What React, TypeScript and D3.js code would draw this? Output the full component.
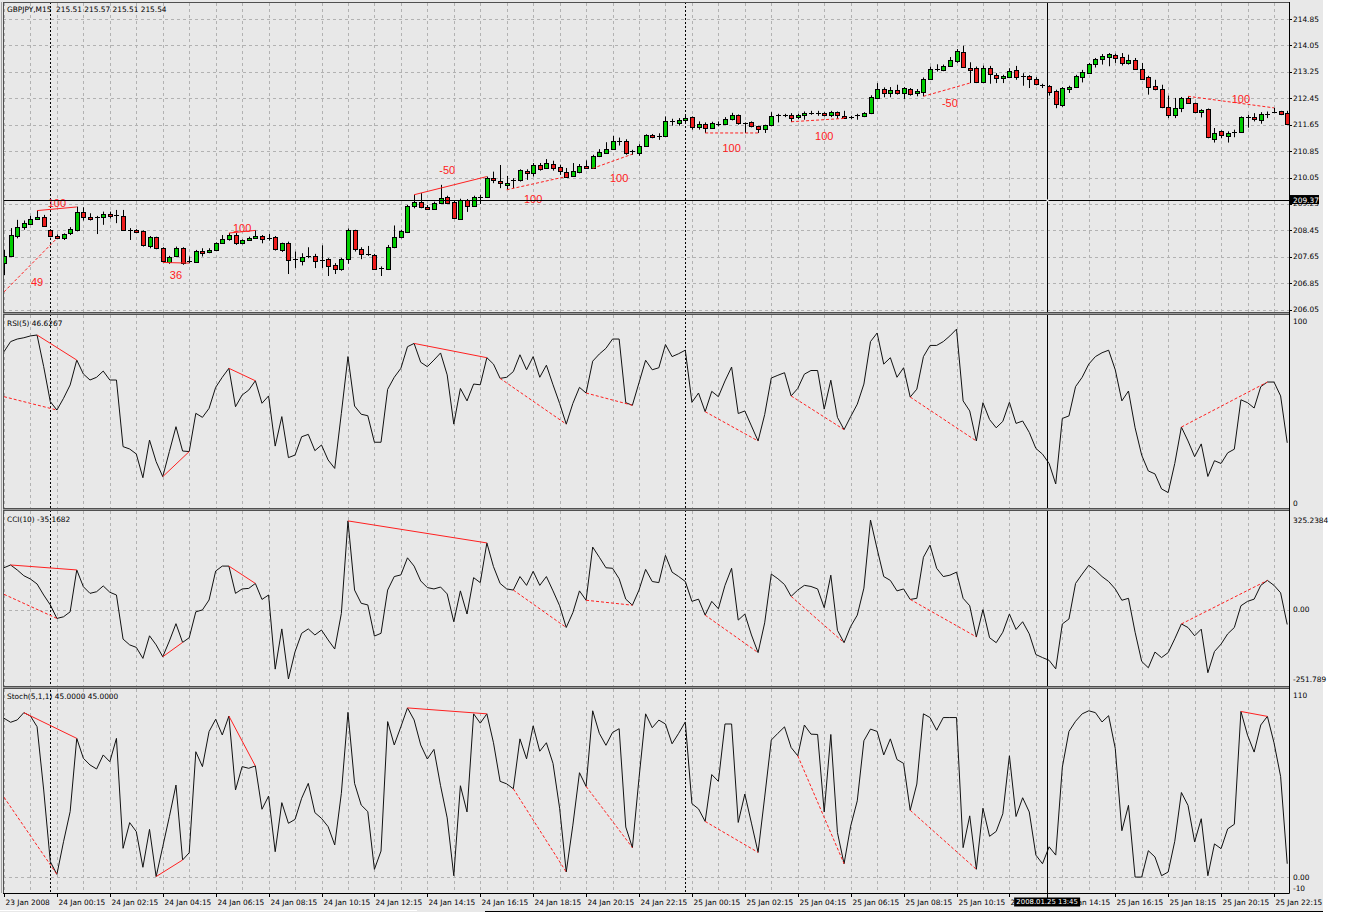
import React from "react";
import * as d3 from "d3";

// ---------------- DATA ----------------
const symbolHeader = "GBPJPY,M15  215.51 215.57 215.51 215.54";
const rsiHeader = "RSI(5) 46.6267";
const cciHeader = "CCI(10) -35.1682";
const stochHeader = "Stoch(5,1,1) 45.0000 45.0000";

const timeLabels = [
  "23 Jan 2008", "24 Jan 00:15", "24 Jan 02:15", "24 Jan 04:15", "24 Jan 06:15", "24 Jan 08:15",
  "24 Jan 10:15", "24 Jan 12:15", "24 Jan 14:15", "24 Jan 16:15", "24 Jan 18:15", "24 Jan 20:15",
  "24 Jan 22:15", "25 Jan 00:15", "25 Jan 02:15", "25 Jan 04:15", "25 Jan 06:15", "25 Jan 08:15",
  "25 Jan 10:15", "25 Jan 12:15", "25 Jan 14:15", "25 Jan 16:15", "25 Jan 18:15", "25 Jan 20:15",
  "25 Jan 22:15",
];
const barsPerLabel = 8;
const gridEveryBars = 4;
const periodSeparatorBars = [7, 103];

const priceTicks = [214.85, 214.05, 213.25, 212.45, 211.65, 210.85, 210.05, 209.25, 208.45, 207.65, 206.85, 206.05];
const rsiTicks = [100, 0];
const cciTicks = [325.2384, 0, -251.789];
const cciTickLabels = ["325.2384", "0.00", "-251.789"];
const stochTicks = [110, 0, -10];
const stochTickLabels = ["110", "0.00", "-10"];

const crosshairBar = 157.7;
const crosshairPrice = 209.37;
const crosshairTimeLabel = "2008.01.25 13:45";

const open = [
  207.46, 207.68, 208.28, 208.55, 208.65, 208.80, 208.86, 208.47, 208.28, 208.20,
  208.37, 208.47, 209.00, 208.87, 208.86, 208.86, 208.95, 208.91, 208.89, 208.47,
  208.47, 208.42, 207.98, 208.24, 207.91, 207.51, 207.66, 207.91, 207.52, 207.51,
  207.84, 207.79, 207.86, 208.08, 208.18, 208.30, 208.06, 208.16, 208.22, 208.28,
  208.23, 208.24, 207.86, 208.06, 207.57, 207.54, 207.68, 207.68, 207.55, 207.58,
  207.40, 207.27, 207.58, 208.45, 207.88, 207.74, 207.71, 207.31, 207.27, 207.94,
  208.24, 208.40, 209.19, 209.32, 209.17, 209.12, 209.27, 209.46, 209.31, 208.80,
  209.37, 209.19, 209.46, 209.46, 210.03, 209.95, 209.85, 209.98, 209.98, 210.26,
  210.20, 210.44, 210.34, 210.46, 210.36, 210.23, 210.08, 210.24, 210.41, 210.34,
  210.69, 210.81, 210.91, 211.15, 211.17, 210.84, 210.81, 211.02, 211.35, 211.30,
  211.32, 211.76, 211.70, 211.78, 211.88, 211.58, 211.67, 211.55, 211.68, 211.67,
  211.80, 211.93, 211.69, 211.72, 211.60, 211.50, 211.62, 211.94, 211.93, 211.95,
  211.87, 211.92, 212.00, 212.00, 212.00, 211.95, 212.03, 211.92, 211.87, 211.93,
  211.90, 212.00, 212.48, 212.74, 212.61, 212.71, 212.60, 212.73, 212.59, 212.64,
  213.04, 213.33, 213.30, 213.45, 213.59, 213.85, 213.37, 213.36, 212.94, 213.36,
  213.16, 213.06, 213.11, 213.31, 213.11, 213.13, 213.03, 212.84, 212.83, 212.66,
  212.26, 212.73, 212.79, 213.11, 213.23, 213.49, 213.65, 213.70, 213.75, 213.69,
  213.52, 213.62, 213.35, 213.08, 212.83, 212.73, 212.18, 211.95, 212.16, 212.46,
  212.30, 212.05, 212.12, 211.24, 211.45, 211.31, 211.44, 211.43, 211.88, 211.87,
  211.80, 211.98, 212.02, 212.05, 212.00,
];
const high = [
  207.86, 208.52, 208.77, 208.75, 208.89, 209.05, 208.92, 208.49, 208.33, 208.36,
  208.55, 209.17, 209.15, 208.97, 208.89, 209.02, 209.02, 209.07, 209.07, 208.52,
  208.49, 208.45, 208.28, 208.26, 207.94, 207.68, 207.96, 207.94, 207.66, 207.86,
  207.91, 207.91, 208.09, 208.31, 208.37, 208.37, 208.18, 208.26, 208.45, 208.31,
  208.34, 208.28, 208.08, 208.11, 207.81, 207.76, 207.94, 207.74, 208.00, 207.61,
  207.46, 207.62, 208.51, 208.47, 207.94, 207.98, 207.74, 207.36, 208.01, 208.60,
  208.47, 209.22, 209.53, 209.58, 209.22, 209.32, 209.83, 209.50, 209.35, 209.41,
  209.40, 209.50, 209.53, 210.08, 210.23, 210.43, 210.10, 210.03, 210.30, 210.30,
  210.49, 210.49, 210.61, 210.56, 210.44, 210.34, 210.49, 210.46, 210.57, 210.74,
  210.91, 211.12, 211.31, 211.26, 211.21, 210.89, 211.06, 211.36, 211.37, 211.39,
  211.90, 211.83, 211.85, 211.92, 211.90, 211.75, 211.72, 211.74, 211.75, 211.88,
  212.01, 211.96, 211.72, 211.75, 211.62, 211.65, 212.03, 211.98, 211.98, 212.00,
  211.98, 212.05, 212.07, 212.07, 212.03, 212.07, 212.05, 212.07, 211.92, 211.98,
  212.03, 212.54, 212.91, 212.78, 212.79, 212.86, 212.79, 212.76, 212.73, 213.08,
  213.41, 213.48, 213.47, 213.70, 213.94, 214.04, 213.54, 213.41, 213.44, 213.43,
  213.21, 213.16, 213.36, 213.43, 213.21, 213.15, 213.09, 212.89, 212.85, 212.71,
  212.79, 212.83, 213.16, 213.31, 213.52, 213.67, 213.79, 213.82, 213.80, 213.82,
  213.77, 213.67, 213.52, 213.13, 213.01, 212.86, 212.53, 212.46, 212.49, 212.51,
  212.32, 212.12, 212.14, 211.55, 211.48, 211.45, 211.50, 211.90, 211.95, 212.00,
  212.03, 212.05, 212.16, 212.07, 212.07,
];
const low = [
  207.10, 207.66, 208.21, 208.47, 208.62, 208.77, 208.57, 208.24, 208.20, 208.16,
  208.31, 208.42, 208.75, 208.75, 208.34, 208.62, 208.81, 208.67, 208.45, 208.16,
  208.37, 207.96, 207.91, 207.88, 207.48, 207.44, 207.64, 207.41, 207.46, 207.49,
  207.66, 207.76, 207.84, 208.06, 208.14, 208.01, 208.03, 208.14, 208.20, 208.06,
  208.14, 207.84, 207.80, 207.13, 207.31, 207.39, 207.61, 207.31, 207.31, 207.07,
  207.13, 207.23, 207.44, 207.81, 207.58, 207.68, 207.27, 207.07, 207.25, 207.91,
  208.21, 208.37, 209.12, 209.12, 209.07, 209.07, 209.25, 209.25, 208.80, 208.77,
  209.01, 209.17, 209.25, 209.43, 209.88, 209.73, 209.68, 209.73, 209.93, 209.98,
  210.08, 210.26, 210.31, 210.26, 210.13, 210.08, 210.08, 210.18, 210.34, 210.31,
  210.67, 210.79, 210.89, 211.02, 210.74, 210.74, 210.71, 211.01, 211.24, 211.19,
  211.29, 211.62, 211.62, 211.70, 211.50, 211.50, 211.40, 211.53, 211.60, 211.65,
  211.78, 211.65, 211.40, 211.57, 211.40, 211.40, 211.60, 211.72, 211.88, 211.73,
  211.82, 211.80, 211.95, 211.92, 211.90, 211.88, 211.83, 211.85, 211.82, 211.80,
  211.88, 211.97, 212.43, 212.48, 212.48, 212.56, 212.43, 212.53, 212.51, 212.51,
  213.01, 213.26, 213.27, 213.42, 213.52, 213.37, 212.91, 212.91, 212.91, 212.89,
  212.91, 212.91, 213.06, 213.01, 212.83, 212.76, 212.84, 212.76, 212.53, 212.15,
  212.19, 212.61, 212.76, 212.93, 213.21, 213.38, 213.47, 213.42, 213.52, 213.44,
  213.47, 213.31, 213.01, 212.56, 212.69, 212.15, 211.85, 211.85, 212.03, 212.29,
  212.00, 211.87, 211.24, 211.11, 211.24, 211.11, 211.27, 211.40, 211.56, 211.75,
  211.68, 211.85, 212.00, 211.94, 211.65,
];
const close = [
  207.68, 208.31, 208.54, 208.67, 208.80, 208.87, 208.59, 208.28, 208.21, 208.33,
  208.50, 209.00, 208.85, 208.81, 208.85, 208.95, 208.89, 208.90, 208.47, 208.46,
  208.40, 208.01, 208.24, 207.91, 207.51, 207.66, 207.91, 207.46, 207.50, 207.84,
  207.79, 207.86, 208.06, 208.19, 208.30, 208.06, 208.16, 208.21, 208.29, 208.18,
  208.24, 207.88, 208.06, 207.56, 207.56, 207.66, 207.67, 207.54, 207.54, 207.36,
  207.27, 207.58, 208.47, 207.86, 207.74, 207.73, 207.30, 207.30, 207.94, 208.24,
  208.42, 209.19, 209.32, 209.17, 209.12, 209.29, 209.43, 209.29, 208.82, 209.37,
  209.19, 209.46, 209.45, 210.03, 209.98, 209.88, 209.90, 209.97, 210.28, 210.20,
  210.44, 210.31, 210.49, 210.34, 210.23, 210.08, 210.24, 210.41, 210.34, 210.71,
  210.82, 210.92, 211.15, 211.12, 210.82, 210.83, 211.02, 211.34, 211.29, 211.32,
  211.76, 211.75, 211.78, 211.85, 211.57, 211.68, 211.55, 211.70, 211.69, 211.83,
  211.93, 211.68, 211.70, 211.60, 211.50, 211.63, 211.90, 211.95, 211.94, 211.85,
  211.93, 211.99, 212.01, 212.00, 211.94, 212.03, 211.94, 211.87, 211.90, 211.93,
  212.00, 212.48, 212.74, 212.61, 212.71, 212.63, 212.75, 212.59, 212.66, 213.04,
  213.33, 213.32, 213.42, 213.62, 213.89, 213.40, 213.32, 212.94, 213.36, 213.19,
  213.06, 213.11, 213.29, 213.09, 213.10, 213.03, 212.88, 212.83, 212.66, 212.28,
  212.76, 212.78, 213.13, 213.26, 213.49, 213.64, 213.74, 213.79, 213.67, 213.52,
  213.62, 213.35, 213.04, 212.78, 212.73, 212.18, 211.95, 212.17, 212.46, 212.31,
  212.02, 212.10, 211.27, 211.41, 211.32, 211.41, 211.45, 211.88, 211.89, 211.80,
  211.98, 212.02, 212.03, 211.97, 211.68,
];

const rsi = [
  82.7, 88.2, 89.6, 90.3, 91.3, 91.8, 74.5, 55.4, 50.8, 57.2,
  64.5, 78.1, 70.5, 67.2, 68.7, 72.1, 67.2, 67.2, 30.8, 29.5,
  26.8, 13.8, 34.4, 22.6, 14.4, 28.1, 41.7, 28.4, 28.1, 49.0,
  46.8, 51.7, 63.2, 68.7, 73.6, 52.6, 59.0, 61.7, 66.8, 54.5,
  58.5, 31.1, 47.2, 24.8, 26.2, 36.2, 37.5, 28.6, 31.7, 23.5,
  18.9, 49.0, 80.0, 53.0, 48.5, 47.7, 33.2, 33.2, 62.1, 68.7,
  73.6, 85.4, 87.2, 76.9, 74.5, 78.1, 82.0, 70.0, 43.1, 62.6,
  55.8, 65.0, 64.6, 79.4, 75.9, 68.1, 68.7, 71.8, 81.0, 72.8,
  80.0, 68.7, 75.3, 64.6, 54.4, 43.1, 54.4, 63.2, 60.1, 77.5,
  81.4, 84.5, 89.6, 89.6, 54.8, 53.4, 65.7, 78.0, 72.8, 73.9,
  86.6, 80.0, 81.6, 83.5, 55.0, 60.1, 49.9, 61.0, 58.1, 66.7,
  74.3, 48.9, 50.3, 42.1, 33.9, 48.3, 68.3, 69.8, 71.2, 58.5,
  62.6, 70.4, 72.4, 72.4, 51.3, 67.1, 46.8, 40.1, 47.2, 54.0,
  65.0, 88.2, 92.9, 75.9, 79.4, 68.7, 73.9, 57.9, 62.2, 80.0,
  86.1, 86.1, 88.2, 91.3, 95.0, 55.8, 50.3, 33.9, 54.8, 45.6,
  41.1, 44.6, 55.0, 43.5, 44.8, 38.6, 29.8, 26.7, 21.6, 10.4,
  46.2, 47.6, 63.6, 68.7, 75.9, 80.0, 82.1, 83.5, 72.8, 55.8,
  61.2, 41.1, 26.1, 17.5, 15.9, 7.7, 5.7, 21.6, 41.5, 33.9,
  25.3, 32.3, 14.5, 23.1, 21.6, 27.4, 29.4, 56.4, 54.8, 51.9,
  63.6, 66.1, 66.1, 58.5, 32.9,
];

const cci = [
  152, 162, 144, 123, 111, 93, 53, 17, -32, -26,
  -8, 144, 83, 59, 65, 86, 63, 53, -107, -128,
  -137, -177, -95, -128, -171, -114, -51, -119, -102, -8,
  -1, 35, 140, 158, 158, 59, 75, 77, 95, 37,
  53, -216, -70, -251.789, -153, -86, -70, -92, -74, -110,
  -143, -14, 322, 71, 23, 17, -96, -86, 71, 120,
  126, 188, 158, 104, 80, 75, 82, 57, -44, 68,
  -16, 116, 98, 242, 156, 95, 75, 71, 120, 88,
  139, 88, 120, 68, 14, -65, -11, 68, 34, 227,
  190, 152, 150, 112, 38, 16, 71, 146, 102, 98,
  197, 136, 120, 102, 30, 38, -20, 30, 3, 88,
  150, -38, -16, -92, -156, -48, 129, 112, 91, 48,
  71, 88, 84, 75, 7, 125, -75, -120, -61, -20,
  78, 325.2384, 220, 120, 106, 68, 75, 37, 41, 190,
  234, 150, 120, 125, 136, 41, 14, -99, 0, -102,
  -120, -82, -16, -72, -44, -88, -163, -174, -184, -215,
  -52, -34, 95, 129, 161, 143, 120, 102, 75, 34,
  41, -82, -188, -211, -154, -174, -156, -106, -52, -65,
  -95, -71, -229, -152, -125, -88, -65, 14, 30, 38,
  88, 106, 88, 61, -54,
];

const stoch = [
  93.9, 91.5, 92.9, 97.2, 95.2, 88.9, 51.5, 9.1, 1.6, 20.9,
  38.7, 82.0, 70.2, 66.3, 63.9, 72.2, 68.2, 82.0, 17.0, 32.2,
  26.9, 5.8, 28.2, 0.3, 18.0, 35.7, 54.4, 10.1, 14.4, 74.1,
  65.3, 86.0, 93.3, 84.0, 95.2, 51.5, 65.3, 64.3, 65.7, 40.1,
  47.9, 15.0, 44.0, 31.8, 34.1, 46.6, 55.4, 38.1, 34.7, 29.8,
  19.0, 49.5, 97.4, 55.4, 42.6, 38.7, 4.6, 15.4, 91.9, 78.1,
  88.9, 100, 92.9, 78.1, 69.8, 75.5, 54.0, 35.0, 0.8, 54.0,
  38.5, 96.5, 91.0, 96.5, 79.4, 56.6, 55.1, 52.2, 81.7, 69.9,
  89.4, 74.4, 79.4, 67.2, 40.7, 3.0, 30.7, 61.7, 53.6, 98.3,
  85.0, 77.9, 85.5, 87.7, 29.6, 17.4, 58.4, 96.5, 88.3, 92.8,
  90.5, 78.8, 85.0, 91.7, 43.4, 40.3, 32.9, 60.6, 56.6, 90.5,
  90.5, 32.3, 49.1, 31.9, 14.6, 47.3, 81.0, 85.0, 88.8, 76.6,
  71.7, 89.9, 84.5, 84.3, 38.5, 84.3, 26.3, 7.9, 30.1, 45.1,
  80.6, 87.5, 86.1, 72.2, 81.7, 69.5, 67.2, 39.5, 55.0, 96.5,
  94.3, 86.8, 94.3, 94.3, 94.3, 17.4, 36.2, 4.6, 40.7, 24.1,
  27.0, 37.4, 71.7, 35.8, 46.9, 38.5, 13.0, 7.9, 17.9, 13.0,
  65.0, 86.1, 92.1, 96.5, 98.3, 97.2, 91.7, 95.4, 76.1, 27.4,
  42.4, 0, 0, 15.6, 11.9, 0.8, 3.0, 21.2, 50.0, 42.4,
  20.8, 34.5, 0.8, 19.6, 16.8, 28.5, 31.2, 97.9, 83.9, 73.9,
  89.9, 95.0, 79.4, 59.5, 7.9,
];

// divergence marks (bar index and value at each end)
const priceDivergences = [
  { a: 0, av: 206.59, b: 8, bv: 208.21, dashed: true, label: "49", lb: 5, lv: 206.89 },
  { a: 5, av: 209.05, b: 11, bv: 209.16, dashed: false, label: "100", lb: 8, lv: 209.28 },
  { a: 24, av: 207.48, b: 28, bv: 207.46, dashed: false, label: "36", lb: 26, lv: 207.1 },
  { a: 34, av: 208.37, b: 38, bv: 208.45, dashed: false, label: "100", lb: 36, lv: 208.53 },
  { a: 62, av: 209.53, b: 73, bv: 210.08, dashed: false, label: "-50", lb: 67, lv: 210.28 },
  { a: 76, av: 209.68, b: 85, bv: 210.08, dashed: true, label: "100", lb: 80, lv: 209.4 },
  { a: 89, av: 210.33, b: 95, bv: 210.76, dashed: true, label: "100", lb: 93, lv: 210.05 },
  { a: 106, av: 211.4, b: 114, bv: 211.4, dashed: true, label: "100", lb: 110, lv: 210.96 },
  { a: 119, av: 211.74, b: 127, bv: 211.84, dashed: true, label: "100", lb: 124, lv: 211.32 },
  { a: 139, av: 212.51, b: 146, bv: 212.91, dashed: true, label: "-50", lb: 143, lv: 212.3 },
  { a: 179, av: 212.51, b: 192, bv: 212.16, dashed: true, label: "100", lb: 187, lv: 212.44 },
];
const rsiDivergences = [
  { a: 0, av: 58.1, b: 8, bv: 50.8, dashed: true },
  { a: 5, av: 91.8, b: 11, bv: 78.1, dashed: false },
  { a: 24, av: 14.4, b: 28, bv: 28.1, dashed: false },
  { a: 34, av: 73.6, b: 38, bv: 66.8, dashed: false },
  { a: 62, av: 87.2, b: 73, bv: 79.4, dashed: false },
  { a: 75, av: 68.1, b: 85, bv: 43.1, dashed: true },
  { a: 88, av: 60.1, b: 95, bv: 53.4, dashed: true },
  { a: 106, av: 49.9, b: 114, bv: 33.9, dashed: true },
  { a: 119, av: 58.5, b: 127, bv: 40.1, dashed: true },
  { a: 137, av: 57.9, b: 147, bv: 33.9, dashed: true },
  { a: 178, av: 41.5, b: 191, bv: 66.1, dashed: true },
];
const cciDivergences = [
  { a: 0, av: 55.5, b: 8, bv: -32, dashed: true },
  { a: 1, av: 162, b: 11, bv: 144, dashed: false },
  { a: 24, av: -171, b: 27, bv: -119, dashed: false },
  { a: 34, av: 158, b: 38, bv: 95, dashed: false },
  { a: 52, av: 322, b: 73, bv: 242, dashed: false },
  { a: 77, av: 71, b: 85, bv: -65, dashed: true },
  { a: 88, av: 34, b: 95, bv: 16, dashed: true },
  { a: 106, av: -20, b: 114, bv: -156, dashed: true },
  { a: 119, av: 48, b: 127, bv: -120, dashed: true },
  { a: 137, av: 37, b: 147, bv: -99, dashed: true },
  { a: 178, av: -52, b: 191, bv: 106, dashed: true },
];
const stochDivergences = [
  { a: 0, av: 47.2, b: 8, bv: 1.6, dashed: true },
  { a: 3, av: 97.2, b: 11, bv: 82.0, dashed: false },
  { a: 23, av: 0.3, b: 27, bv: 10.1, dashed: false },
  { a: 34, av: 95.2, b: 38, bv: 65.7, dashed: false },
  { a: 61, av: 100, b: 73, bv: 96.5, dashed: false },
  { a: 77, av: 52.2, b: 85, bv: 3.0, dashed: true },
  { a: 88, av: 53.6, b: 95, bv: 17.4, dashed: true },
  { a: 106, av: 32.9, b: 114, bv: 14.6, dashed: true },
  { a: 120, av: 71.7, b: 127, bv: 7.9, dashed: true },
  { a: 137, av: 39.5, b: 147, bv: 4.6, dashed: true },
  { a: 187, av: 97.9, b: 191, bv: 95.0, dashed: false },
];

// ---------------- LAYOUT ----------------
const W = 1350;
const H = 912;
const LEFT = 3;
const RIGHT = 1289;
const BG_RIGHT = 1323;
const panels = {
  main: { top: 2, bottom: 312 },
  rsi: { top: 314, bottom: 508 },
  cci: { top: 510, bottom: 686 },
  stoch: { top: 688, bottom: 893 },
};
const FONT = "'DejaVu Sans', Verdana, sans-serif";
const FS = 7.4;
const BG = "#e8e8e8";
const GRID = "#b2b2b2";
const BULL = "#00cc00";
const BEAR = "#ee1c1c";
const DIV = "#ff2020";

const x = d3.scaleLinear().domain([0, 192]).range([4, 1274]);
const yPrice = d3.scaleLinear().domain([206.05, 214.85]).range([309.7, 19]);
const yRsi = d3.scaleLinear().domain([0, 100]).range([503, 320]);
const yCci = d3.scaleLinear().domain([-251.789, 325.2384]).range([679, 520]);
const yStoch = d3.scaleLinear().domain([-10, 110]).range([894, 691]);

const px = (v: number) => Math.round(v) + 0.5;

function Divs({ list, y }: { list: any[]; y: d3.ScaleLinear<number, number> }) {
  return (
    <g>
      {list.map((d, i) => (
        <line
          key={i}
          x1={x(d.a)}
          y1={y(d.av)}
          x2={x(d.b)}
          y2={y(d.bv)}
          stroke={DIV}
          strokeWidth={1}
          strokeDasharray={d.dashed ? "3,2" : undefined}
        />
      ))}
    </g>
  );
}

function IndicatorLine({ values, y }: { values: number[]; y: d3.ScaleLinear<number, number> }) {
  const line = d3
    .line<number>()
    .x((_, i) => x(i))
    .y((v) => y(v));
  return <path d={line(values) || ""} fill="none" stroke="#111" strokeWidth={1} />;
}

export default function App() {
  const nBars = open.length;
  const gridBars = d3.range(0, 193, gridEveryBars);
  const clampLabel = (v: number, p: { top: number; bottom: number }) =>
    Math.max(p.top + 7, Math.min(p.bottom - 5, v));

  const chX = x(crosshairBar);
  const chY = yPrice(crosshairPrice);
  const timeBoxL = chX - 33;
  const timeBoxR = chX + 33;
  const priceBoxTop = chY - 5;
  const priceBoxBottom = chY + 4;

  const panelList = [panels.main, panels.rsi, panels.cci, panels.stoch];

  return (
    <div>
      <style>{`body{margin:0;background:#fff}`}</style>
      <svg width={W} height={H} style={{ display: "block" }} fontFamily={FONT}>
        <defs>
          {panelList.map((p, i) => (
            <clipPath id={`clip${i}`} key={i}>
              <rect x={LEFT + 1} y={p.top + 1} width={RIGHT - LEFT - 1} height={p.bottom - p.top - 1} />
            </clipPath>
          ))}
          <clipPath id="clipTimeAxis">
            <rect x={0} y={893} width={timeBoxL} height={19} />
            <rect x={timeBoxR} y={893} width={W - timeBoxR} height={19} />
          </clipPath>
          <clipPath id="clipPriceAxis">
            <rect x={RIGHT} y={0} width={W - RIGHT} height={priceBoxTop} />
            <rect x={RIGHT} y={priceBoxBottom} width={W - RIGHT} height={H - priceBoxBottom} />
          </clipPath>
        </defs>
        <rect x={0} y={0} width={BG_RIGHT} height={H} fill={BG} />

        {/* vertical grid in all panels */}
        {panelList.map((p, pi) => (
          <g key={pi}>
            {gridBars.map((b) => (
              <line
                key={b}
                x1={px(x(b))}
                x2={px(x(b))}
                y1={p.top + 1}
                y2={p.bottom}
                stroke={GRID}
                strokeDasharray="3,3"
              />
            ))}
          </g>
        ))}
        {/* horizontal grid */}
        {priceTicks.map((t) => (
          <line key={t} x1={LEFT} x2={RIGHT} y1={px(yPrice(t))} y2={px(yPrice(t))} stroke={GRID} strokeDasharray="3,3" />
        ))}
        <line x1={LEFT} x2={RIGHT} y1={px(yCci(0))} y2={px(yCci(0))} stroke={GRID} strokeDasharray="3,3" />
        <line x1={LEFT} x2={RIGHT} y1={px(yStoch(0))} y2={px(yStoch(0))} stroke={GRID} strokeDasharray="3,3" />

        {/* period separators */}
        {periodSeparatorBars.map((b) => (
          <line key={b} x1={px(x(b))} x2={px(x(b))} y1={panels.main.top} y2={panels.stoch.bottom} stroke="#000" strokeDasharray="2,2" />
        ))}

        {/* main chart */}
        <g clipPath="url(#clip0)">
          {d3.range(nBars).map((i) => {
            const o = open[i];
            const c = close[i];
            const cx = px(x(i));
            const yo = yPrice(o);
            const yc = yPrice(c);
            const top = Math.min(yo, yc);
            const bot = Math.max(yo, yc);
            const bh = bot - top;
            return (
              <g key={i}>
                <line x1={cx} x2={cx} y1={yPrice(high[i])} y2={yPrice(low[i])} stroke="#000" />
                {bh < 1.5 ? (
                  <line x1={cx - 2.5} x2={cx + 2.5} y1={px(yo)} y2={px(yo)} stroke="#000" />
                ) : (
                  <rect
                    x={cx - 2}
                    y={px(top)}
                    width={4}
                    height={Math.max(1, Math.round(bh))}
                    fill={c > o ? BULL : BEAR}
                    stroke="#000"
                  />
                )}
              </g>
            );
          })}
          {priceDivergences.map((d, i) => (
            <g key={i}>
              <line
                x1={x(d.a)}
                y1={yPrice(d.av)}
                x2={x(d.b)}
                y2={yPrice(d.bv)}
                stroke={DIV}
                strokeDasharray={d.dashed ? "3,2" : undefined}
              />
              <text
                x={x(d.lb)}
                y={yPrice(d.lv)}
                fill={DIV}
                fontSize={11}
                fontFamily="'Liberation Sans', Arial, sans-serif"
                textAnchor="middle"
                dominantBaseline="central"
              >
                {d.label}
              </text>
            </g>
          ))}
        </g>

        {/* indicators */}
        <g clipPath="url(#clip1)">
          <IndicatorLine values={rsi} y={yRsi} />
          <Divs list={rsiDivergences} y={yRsi} />
        </g>
        <g clipPath="url(#clip2)">
          <IndicatorLine values={cci} y={yCci} />
          <Divs list={cciDivergences} y={yCci} />
        </g>
        <g clipPath="url(#clip3)">
          <IndicatorLine values={stoch} y={yStoch} />
          <Divs list={stochDivergences} y={yStoch} />
        </g>

        {/* crosshair */}
        <line x1={px(chX)} x2={px(chX)} y1={panels.main.top} y2={panels.stoch.bottom + 5} stroke="#000" />
        <line x1={LEFT} x2={RIGHT} y1={px(chY)} y2={px(chY)} stroke="#000" />
        <rect x={px(chX) - 1} y={px(chY) - 1} width={2} height={2} fill="#fff" />

        {/* panel separators and frames */}
        <rect x={LEFT} y={panels.main.bottom} width={RIGHT - LEFT} height={2} fill="#9a9a9a" />
        <rect x={LEFT} y={panels.rsi.bottom} width={RIGHT - LEFT} height={2} fill="#9a9a9a" />
        <rect x={LEFT} y={panels.cci.bottom} width={RIGHT - LEFT} height={2} fill="#9a9a9a" />
        {panelList.map((p, i) => (
          <rect
            key={i}
            x={LEFT + 0.5}
            y={p.top + 0.5}
            width={RIGHT - LEFT}
            height={p.bottom - p.top}
            fill="none"
            stroke="#505050"
          />
        ))}
        <line x1={LEFT - 1.5} x2={LEFT - 1.5} y1={panels.main.top} y2={panels.stoch.bottom} stroke="#a0a0a0" />
        <line x1={RIGHT + 0.5} x2={RIGHT + 0.5} y1={panels.main.top} y2={panels.stoch.bottom} stroke="#000" />
        <line x1={LEFT} x2={RIGHT} y1={panels.stoch.bottom + 0.5} y2={panels.stoch.bottom + 0.5} stroke="#000" />

        {/* headers */}
        <g fontSize={FS} fill="#000">
          <text x={7} y={12} xmlSpace="preserve" style={{ whiteSpace: "pre" }}>{symbolHeader}</text>
          <text x={7} y={325.5}>{rsiHeader}</text>
          <text x={7} y={522}>{cciHeader}</text>
          <text x={7} y={698.5}>{stochHeader}</text>
        </g>

        {/* right axis */}
        <g fontSize={FS} fill="#000">
          <g clipPath="url(#clipPriceAxis)">
            {priceTicks.map((t) => (
              <g key={t}>
                <line x1={RIGHT} x2={RIGHT + 3} y1={px(yPrice(t))} y2={px(yPrice(t))} stroke="#000" />
                <text x={RIGHT + 4} y={yPrice(t)} dominantBaseline="central">{t.toFixed(2)}</text>
              </g>
            ))}
          </g>
          {rsiTicks.map((t) => (
            <text key={t} x={RIGHT + 4} y={clampLabel(yRsi(t), panels.rsi)} dominantBaseline="central">{String(t)}</text>
          ))}
          {cciTicks.map((t, i) => (
            <text key={t} x={RIGHT + 4} y={clampLabel(yCci(t), panels.cci)} dominantBaseline="central">{cciTickLabels[i]}</text>
          ))}
          {stochTicks.map((t, i) => (
            <text key={t} x={RIGHT + 4} y={clampLabel(yStoch(t), panels.stoch)} dominantBaseline="central">{stochTickLabels[i]}</text>
          ))}
          <rect x={RIGHT + 1} y={priceBoxTop} width={29} height={priceBoxBottom - priceBoxTop} fill="#000" />
          <text x={RIGHT + 4} y={chY} fill="#fff" dominantBaseline="central">{crosshairPrice.toFixed(2)}</text>
        </g>

        {/* time axis */}
        <g fontSize={FS} fill="#000">
          <g clipPath="url(#clipTimeAxis)">
            {timeLabels.map((t, i) => {
              const bx = px(x(i * barsPerLabel));
              return (
                <g key={t}>
                  <line x1={bx} x2={bx} y1={panels.stoch.bottom} y2={panels.stoch.bottom + 4} stroke="#000" />
                  <text x={bx + 1} y={904.5}>{t}</text>
                </g>
              );
            })}
          </g>
          <rect x={timeBoxL} y={897.5} width={timeBoxR - timeBoxL} height={9} fill="#000" />
          <text x={chX} y={902} fill="#fff" fontSize={6.9} textAnchor="middle" dominantBaseline="central">{crosshairTimeLabel}</text>
        </g>
        <line x1={0} x2={417} y1={910.5} y2={910.5} stroke="#fff" />
        <line x1={485} x2={BG_RIGHT} y1={911.5} y2={911.5} stroke="#000" />
      </svg>
    </div>
  );
}
